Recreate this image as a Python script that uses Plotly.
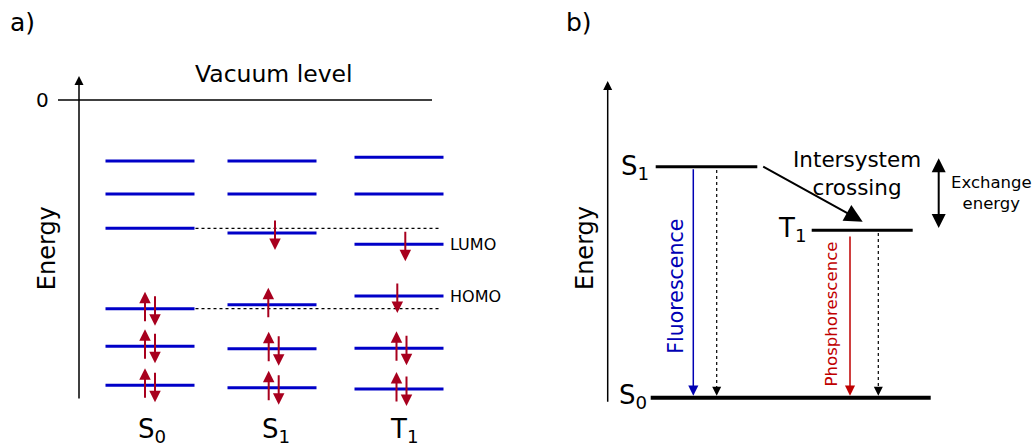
import plotly.graph_objects as go

W, H = 1034, 448

# ---------------- data ----------------
# Panel a: molecular orbital energies relative to the vacuum level (arb. units),
# listed from the highest orbital down to the lowest one.
vacuum_level = 0.0
state_labels = ["S<sub>0</sub>", "S<sub>1</sub>", "T<sub>1</sub>"]
orbitals_S0 = [-6.1, -9.4, -12.83, -20.87, -24.63, -28.53]
orbitals_S1 = [-6.1, -9.4, -13.3, -20.47, -24.87, -28.77]
orbitals_T1 = [-5.73, -9.4, -14.43, -19.6, -24.83, -28.9]
# electron spins in each orbital: "u" = spin up, "d" = spin down
spins_S0 = ["", "", "", "ud", "ud", "ud"]
spins_S1 = ["", "", "d", "u", "ud", "ud"]
spins_T1 = ["", "", "d", "d", "ud", "ud"]
lumo_index, homo_index = 2, 3
frontier_labels = ["LUMO", "HOMO"]

# Panel b: Jablonski diagram state energies (arb. units, ground state = 0)
jablonski_labels = ["S<sub>1</sub>", "T<sub>1</sub>", "S<sub>0</sub>"]
jablonski_energy = [23.1, 16.74, 0.0]
process_labels = ["Fluorescence", "Phosphorescence", "Intersystem<br>crossing", "Exchange<br>energy"]

# ---------------- styling ----------------
FONT = "DejaVu Sans"
LEVEL_BLUE = "#0000c8"
SPIN_RED = "#a8001e"
FLUO_BLUE = "#0000b4"
PHOS_RED = "#c00000"

fig = go.Figure()
annotations = []


def line(xs, ys, color, width, yaxis="y", dash="solid"):
    fig.add_trace(go.Scatter(x=xs, y=ys, mode="lines", yaxis=yaxis,
                             line=dict(color=color, width=width, dash=dash),
                             hoverinfo="skip", showlegend=False))


def arrow(x0, y0, x1, y1, color, width, size, yref="y", head=2, side="end"):
    annotations.append(dict(x=x1, y=y1, ax=x0, ay=y0, xref="x", yref=yref,
                            axref="x", ayref=yref, text="", showarrow=True,
                            arrowhead=head, startarrowhead=head, arrowside=side,
                            arrowwidth=width, arrowsize=size,
                            startarrowsize=size, arrowcolor=color,
                            standoff=0, startstandoff=0))


def label(text, x, y, size, color="black", yref="y", xanchor="center",
          yanchor="middle", angle=0, xref="x"):
    annotations.append(dict(x=x, y=y, xref=xref, yref=yref, text=text,
                            showarrow=False, xanchor=xanchor, yanchor=yanchor,
                            textangle=angle, borderpad=0,
                            font=dict(family=FONT, size=size, color=color)))


# ---------------- panel a ----------------
columns = [orbitals_S0, orbitals_S1, orbitals_T1]
column_spins = [spins_S0, spins_S1, spins_T1]
col_left = [105.5, 227.5, 354.5]
level_w = 89
pair_center = [150, 273.7, 401.5]
single_x = {(1, 2): 275, (1, 3): 268.3, (2, 2): 405.3, (2, 3): 397.3}

# energy axis and vacuum level
arrow(79, -30.0, 79, 2.4, "black", 1.5, 1.2)
line([58, 432], [vacuum_level, vacuum_level], "black", 1.5)
label("0", 42, vacuum_level, 20)
label("Vacuum level", 274, 10 - 7.42, 23.5)
label("Energy", 46.7, 10 - 24.85, 24, angle=-90)
label("a)", 22.5, 10 - 2.25, 25)

# dotted guides at the ground-state HOMO/LUMO
for idx in (lumo_index, homo_index):
    e = orbitals_S0[idx]
    line([col_left[0] + level_w + 1, 441], [e, e], "black", 1.2, dash="dot")

SPIN_W, SPIN_HEAD = 2, 1.15
for c, (levels, spins) in enumerate(zip(columns, column_spins)):
    xs, ys = [], []
    for e in levels:
        xs += [col_left[c], col_left[c] + level_w, None]
        ys += [e, e, None]
    line(xs, ys, LEVEL_BLUE, 3)
    for i, (e, s) in enumerate(zip(levels, spins)):
        if s == "ud":
            arrow(pair_center[c] - 5, e - 1.4, pair_center[c] - 5, e + 1.7, SPIN_RED, SPIN_W, SPIN_HEAD)
            arrow(pair_center[c] + 5, e + 1.4, pair_center[c] + 5, e - 1.7, SPIN_RED, SPIN_W, SPIN_HEAD)
        elif s == "u":
            x = single_x[(c, i)]
            arrow(x, e - 1.4, x, e + 1.7, SPIN_RED, SPIN_W, SPIN_HEAD)
        elif s == "d":
            x = single_x[(c, i)]
            arrow(x, e + 1.4, x, e - 1.7, SPIN_RED, SPIN_W, SPIN_HEAD)
    label(state_labels[c], pair_center[c] + 2, 10 - 43.0, 26)

label(frontier_labels[0], 448.5, orbitals_T1[lumo_index], 16, xanchor="left")
label(frontier_labels[1], 448.5, orbitals_T1[homo_index], 16, xanchor="left")

# ---------------- panel b ----------------
E_S1, E_T1, E_S0 = jablonski_energy
label("b)", 578.5, 39.77 - 2.25, 25, yref="y2")
arrow(607.7, E_S0 - 0.56, 607.7, 31.67, "black", 1.5, 1.2, yref="y2")
label("Energy", 585, (397.7 - 248) / 10, 24, yref="y2", angle=-90)

line([655.7, 757.3], [E_S1, E_S1], "black", 3, yaxis="y2")
line([811.7, 912.7], [E_T1, E_T1], "black", 3, yaxis="y2")
line([650.7, 930.7], [E_S0, E_S0], "black", 4, yaxis="y2")

label(jablonski_labels[0], 650, E_S1 - 0.1, 26, yref="y2", xanchor="right")
label(jablonski_labels[1], 807, E_T1 + 0.1, 26, yref="y2", xanchor="right")
label(jablonski_labels[2], 648, E_S0 + 0.1, 26, yref="y2", xanchor="right")

# radiative decays
arrow(693.3, E_S1 - 0.1, 693.3, E_S0 + 0.2, FLUO_BLUE, 1.5, 1.35, yref="y2")
arrow(850, E_T1 - 0.47, 850, E_S0 + 0.2, PHOS_RED, 1.5, 1.35, yref="y2")
label(process_labels[0], 676, (397.7 - 286.7) / 10, 20.5, color=FLUO_BLUE,
      yref="y2", angle=-90)
label(process_labels[1], 831.3, (397.7 - 314.2) / 10, 16.6, color=PHOS_RED,
      yref="y2", angle=-90)

# non-radiative decays (dotted)
for x, top in ((716.7, E_S1 - 0.33), (878.3, E_T1 - 0.27)):
    line([x, x], [top, E_S0 + 1.0], "black", 1.2, yaxis="y2", dash="dot")
    arrow(x, E_S0 + 1.2, x, E_S0 + 0.2, "black", 1.2, 1.5, yref="y2")

# intersystem crossing
arrow(761.7, E_S1 + 0.1, 862.7, E_T1 + 0.86, "black", 2, 1.8, yref="y2")
annotations.append(dict(x=856.5, y=(397.7 - 173) / 10, xref="x", yref="y2",
                        text=process_labels[2], showarrow=False,
                        xanchor="center", yanchor="middle", borderpad=0,
                        font=dict(family=FONT, size=21.5, color="black")))

# singlet-triplet exchange splitting
arrow(938.7, E_T1 + 0.07, 938.7, E_S1 + 0.84, "black", 2, 1.4, yref="y2", side="end+start")
annotations.append(dict(x=991, y=(397.7 - 193) / 10, xref="x", yref="y2",
                        text=process_labels[3], showarrow=False,
                        xanchor="center", yanchor="middle", borderpad=0,
                        font=dict(family=FONT, size=16.5, color="black")))

fig.update_layout(
    width=W, height=H, autosize=False,
    margin=dict(l=0, r=0, t=0, b=0, pad=0),
    paper_bgcolor="white", plot_bgcolor="white",
    xaxis=dict(range=[0, W], visible=False, fixedrange=True),
    yaxis=dict(range=[-34.8, 10], visible=False, fixedrange=True),
    yaxis2=dict(range=[-5.03, 39.77], visible=False, overlaying="y", fixedrange=True),
    annotations=annotations,
    showlegend=False,
)

fig.write_html("out.html", config={"displayModeBar": False})
